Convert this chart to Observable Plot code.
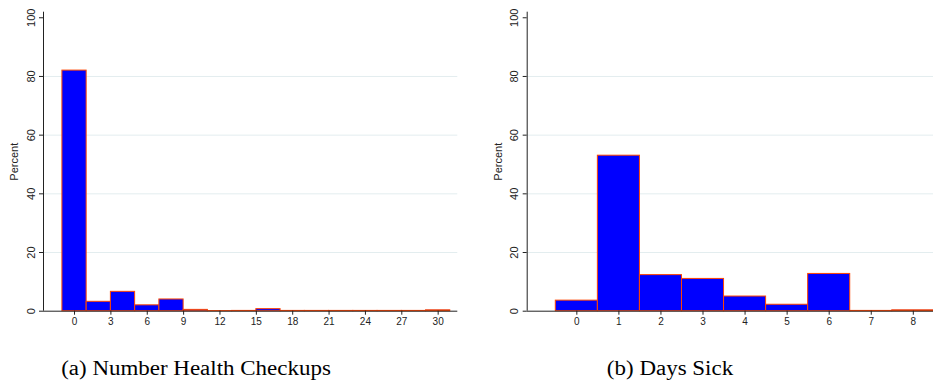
<!DOCTYPE html>
<html><head><meta charset="utf-8">
<script src="https://cdn.jsdelivr.net/npm/d3@7"></script>
<script src="https://cdn.jsdelivr.net/npm/@observablehq/plot@0.6"></script>
<style>
body{margin:0;background:#fff;}
#wrap{position:relative;width:933px;height:385px;overflow:hidden;background:#fff;}
.panel{position:absolute;top:0;}
.cap{position:absolute;font-family:"Liberation Serif","Times New Roman",serif;font-size:20.5px;color:#000;white-space:nowrap;transform:translateX(-50%) scaleX(1.12);line-height:1;}
</style></head><body>
<div id="wrap">
<div id="pa" class="panel" style="left:0"></div>
<div id="pb" class="panel" style="left:466px"></div>
<div class="cap" style="left:196px;top:358px">(a) Number Health Checkups</div>
<div class="cap" style="left:670px;top:358px">(b) Days Sick</div>
</div>
<script>
// Panel (a): Number Health Checkups — bins of width 2 starting at -1
const checkupBinStart = [-1, 1, 3, 5, 7, 9, 11, 13, 15, 17, 19, 21, 23, 25, 27, 29];
const checkupBinWidth = 2;
const checkupPercent = [82.0, 3.2, 6.6, 2.0, 4.0, 0.45, 0.05, 0.1, 0.7, 0.1, 0.1, 0.1, 0.1, 0.1, 0.1, 0.3];
const checkupTicks = [0, 3, 6, 9, 12, 15, 18, 21, 24, 27, 30];

// Panel (b): Days Sick — bins of width 1 centred on integers
const daysSickValue = [0, 1, 2, 3, 4, 5, 6, 7, 8];
const daysSickPercent = [3.6, 53.0, 12.3, 11.0, 5.0, 2.2, 12.7, 0.1, 0.3];
const daysSickTicks = [0, 1, 2, 3, 4, 5, 6, 7, 8];

const yTicks = [0, 20, 40, 60, 80, 100];
const gridValues = [20, 40, 60, 80];

const checkupBars = checkupBinStart.map((s, i) => ({x1: s, x2: s + checkupBinWidth, y: checkupPercent[i]}));
const daysBars = daysSickValue.map((v, i) => ({x1: v - 0.5, x2: v + 0.5, y: daysSickPercent[i]}));

function panel({width, marginLeft, marginRight, xDomain, bars, xTicks}) {
  return Plot.plot({
    width, height: 340,
    marginLeft, marginRight, marginTop: 11.7, marginBottom: 29.3,
    x: {domain: xDomain},
    y: {domain: [0, 101.9]},
    style: {fontFamily: "'Liberation Sans', Arial, sans-serif", background: "white", overflow: "visible", color: "#222"},
    marks: [
      Plot.ruleY(gridValues, {stroke: "#e3edef", strokeWidth: 1}),
      Plot.rectY(bars, {x1: "x1", x2: "x2", y: "y", fill: "#0000ff", stroke: "#ff4500", strokeWidth: 1}),
      Plot.ruleY([0], {stroke: "#222", strokeWidth: 1}),
      Plot.ruleX([xDomain[0]], {stroke: "#222", strokeWidth: 1}),
      Plot.axisX({ticks: xTicks, tickSize: 4, tickPadding: 3, fontSize: 10, label: null, stroke: "#222"}),
      Plot.axisY({ticks: yTicks, tickSize: 4, tickRotate: -90, fontSize: 11, label: "Percent", labelAnchor: "center", labelArrow: "none", labelOffset: 33, stroke: "#222"})
    ]
  });
}

document.getElementById("pa").appendChild(panel({
  width: 466, marginLeft: 43, marginRight: 8.7,
  xDomain: [-2.56, 31.62], bars: checkupBars, xTicks: checkupTicks
}));
document.getElementById("pb").appendChild(panel({
  width: 467, marginLeft: 60.7, marginRight: 0,
  xDomain: [-1.18, 8.48], bars: daysBars, xTicks: daysSickTicks
}));
</script>
</body></html>
